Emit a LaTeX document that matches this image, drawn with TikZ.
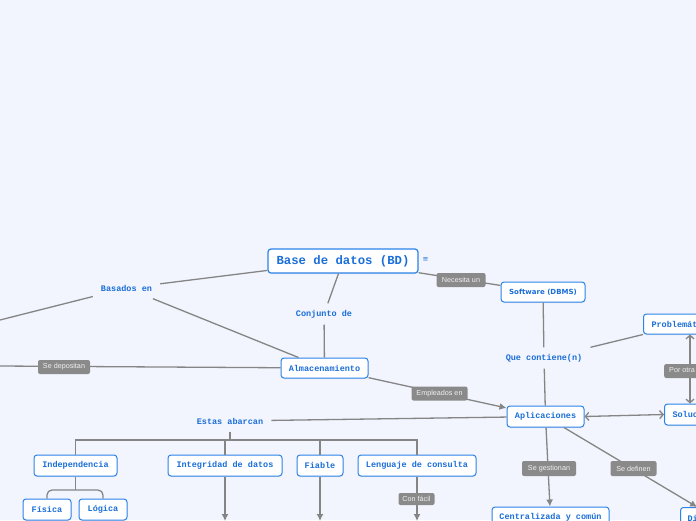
\documentclass[tikz,border=0pt]{standalone}
\usepackage{fontspec}
\setmonofont{Liberation Mono}
\newfontfamily\dvsans{DejaVu Sans}
\newfontfamily\lsans{Liberation Sans}
\usetikzlibrary{arrows.meta,shadows}
\definecolor{bg}{HTML}{F2F5FE}
\definecolor{blu}{HTML}{1A6ED8}
\definecolor{bdr}{HTML}{2C83E8}
\definecolor{lin}{HTML}{858585}
\definecolor{lbg}{HTML}{8A8A8A}
\tikzset{
  box/.style={draw=bdr, fill=white, rounded corners=3pt, line width=1pt, text=blu,
    font=\ttfamily\bfseries\fontsize{8.5}{10}\selectfont, inner sep=0pt, minimum height=21pt,
    drop shadow={shadow xshift=0pt, shadow yshift=-1pt, opacity=0.15}},
  ttxt/.style={text=blu, font=\ttfamily\bfseries\fontsize{8.5}{10}\selectfont,
    inner xsep=8pt, inner ysep=0pt, minimum height=21pt},
  lbl/.style={fill=lbg, rounded corners=2pt, text=white!94!black,
    font=\lsans\fontsize{7.2}{8}\selectfont, inner sep=0pt, minimum height=14pt},
  con/.style={draw=lin, line width=1.3pt},
  arr/.style={con, -{Latex[length=7pt,width=7pt]}},
  darr/.style={con, {Straight Barb[length=3.5pt,width=8pt]}-{Straight Barb[length=3.5pt,width=8pt]}},
}
\begin{document}
\begin{tikzpicture}[x=1pt,y=-1pt]
\useasboundingbox (0,0) rectangle (696,520);
\fill[bg] (0,0) rectangle (696,520);
\clip (0,0) rectangle (696,520);

% nodes
\node[box, minimum width=150pt, minimum height=24pt, line width=1.2pt,
  font=\ttfamily\bfseries\fontsize{12.3}{14}\selectfont] (bd) at (343,261) {Base de datos (BD)};
\node[text=blu, font=\dvsans\fontsize{7}{8}\selectfont, inner sep=0pt] (menu) at (425.5,260) {≡};
\node[ttxt] (conj) at (324,314) {Conjunto de};
\node[ttxt] (bas) at (126.5,288) {Basados en};
\node[box, minimum width=87pt, minimum height=20pt] (alm) at (324.5,368) {Almacenamiento};
\node[box, minimum width=84pt, minimum height=20pt,
  font=\dvsans\bfseries\fontsize{7}{8}\selectfont] (soft) at (543,292) {Software (DBMS)};
\node[ttxt] (que) at (544,358) {Que contiene(n)};
\node[box, anchor=west, inner xsep=8pt, minimum height=20pt] (prob) at (643,324) {Problemática};
\node[box, anchor=west, inner xsep=8pt] (sol) at (664,414.5) {Solución};
\node[box, minimum width=77pt] (apl) at (545.5,416.5) {Aplicaciones};
\node[ttxt] (est) at (230,421) {Estas abarcan};
\node[box, minimum width=83pt] (ind) at (75.5,465.5) {Independencia};
\node[box, minimum width=114pt] (int) at (225,465.5) {Integridad de datos};
\node[box, minimum width=46pt] (fia) at (320,465.5) {Fiable};
\node[box, minimum width=118pt] (len) at (417,465.5) {Lenguaje de consulta};
\node[box, minimum width=48pt] (fis) at (47,509.5) {Física};
\node[box, minimum width=48pt] (log) at (103,509.5) {Lógica};
\node[box, minimum width=117pt] (cen) at (550.5,517.5) {Centralizada y común};
\node[box, anchor=north west, inner xsep=7pt] (dic) at (680,507) {Diccionario};

% free ends
\coordinate (lft1) at (0,320);
\coordinate (lft2) at (0,366);
\coordinate (bus) at (230,440);
\coordinate (jn) at (75.5,490);
\coordinate (intend) at (225,521);
\coordinate (fiaend) at (320,521);
\coordinate (lenend) at (417,521);

% connectors
\draw[con] (bd) -- (bas);
\draw[con] (bas) -- (lft1);
\draw[con] (bas) -- (alm);
\draw[con] (bd) -- (conj);
\draw[con] (conj) -- (alm);
\draw[con] (alm) -- (lft2);
\draw[arr] (alm) -- (apl);
\draw[con] (bd) -- (soft);
\draw[con] (soft) -- (que);
\draw[con] (que) -- (apl);
\draw[con] (que.north east) -- (prob.south west);
\draw[darr] ([xshift=47pt]prob.south west) -- ([xshift=26pt]sol.north west);
\draw[darr] (apl.east) -- (sol.west);
\draw[con] (est) -- (apl);
\draw[con] (est) -- (bus);
\draw[con] (ind) -- (ind |- bus) -- (len |- bus) -- (len);
\draw[con] (int) -- (int |- bus);
\draw[con] (fia) -- (fia |- bus);
\draw[con] (ind) -- (jn);
\draw[con, rounded corners=5pt] (fis) -- (fis |- jn) -- (log |- jn) -- (log);
\draw[arr] (int) -- (intend);
\draw[arr] (fia) -- (fiaend);
\draw[arr] (len) -- (lenend);
\draw[arr] (apl) -- (cen);
\draw[arr] (apl) -- (dic);

% labels
\node[lbl, minimum width=52pt] (ldep) at (64,367) {Se depositan};
\node[lbl, minimum width=56pt] (lemp) at (439.5,393.5) {Empleados en};
\node[lbl, minimum width=49pt] (lnec) at (461,280) {Necesita un};
\node[lbl, anchor=west, inner xsep=5pt] (lotra) at (664,371) {Por otra parte};
\node[lbl, minimum width=54pt, minimum height=15pt] (lges) at (549,468.5) {Se gestionan};
\node[lbl, minimum width=46pt, minimum height=15pt] (ldef) at (633.5,468.5) {Se definen};
\node[lbl, minimum width=36pt, minimum height=12pt] (lfac) at (416.5,499) {Con fácil};
\end{tikzpicture}
\end{document}
